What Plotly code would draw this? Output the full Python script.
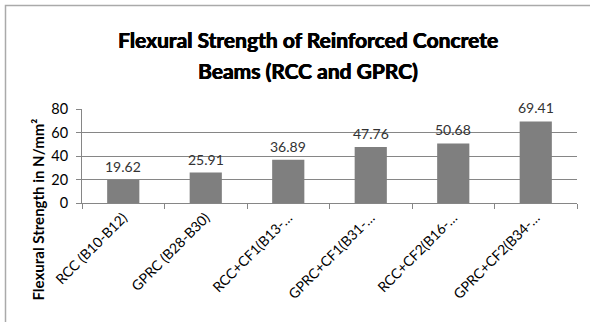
import plotly.graph_objects as go

categories = ["RCC (B10-B12)", "GPRC (B28-B30)", "RCC+CF1(B13-…", "GPRC+CF1(B31-…",
              "RCC+CF2(B16-…", "GPRC+CF2(B34-…"]
strength = [19.62, 25.91, 36.89, 47.76, 50.68, 69.41]
labels = ["19.62", "25.91", "36.89", "47.76", "50.68", "69.41"]
y_ticks = [0, 20, 40, 60, 80]
title_lines = ["Flexural Strength of Reinforced Concrete", "Beams (RCC and GPRC)"]
y_title = "Flexural Strength in N/mm²"

FONT = "Lato, Open Sans, sans-serif"
W, H = 590, 322
L, R, T, B = 82, 13, 109, 119
pw, ph = W - L - R, H - T - B

fig = go.Figure(go.Bar(
    x=categories, y=strength,
    marker=dict(color="#7f7f7f", line=dict(width=0)),
    width=0.39,
))

def px_x(p):
    return (p - L) / pw

def px_y(p):
    return (H - B - p) / ph

annotations = [
    dict(x=c, y=v, text=t, xref="x", yref="y", showarrow=False,
         yanchor="bottom", yshift=3,
         font=dict(family=FONT, size=14, color="#333333"))
    for c, v, t in zip(categories, strength, labels)
]
for line, cy in zip(title_lines, [39, 70.5]):
    annotations.append(dict(
        text=line, xref="paper", yref="paper",
        x=px_x(308), y=px_y(cy), xanchor="center", yanchor="middle",
        showarrow=False,
        font=dict(family=FONT, size=21, color="#000000", weight="bold",
                  shadow="0.5px 0px 0px #000, -0.3px 0px 0px #000"),
    ))
annotations.append(dict(
    text="<b>" + y_title + "</b>", xref="paper", yref="paper",
    x=px_x(37.5), y=px_y(210), xanchor="center", yanchor="middle",
    showarrow=False, textangle=-90,
    font=dict(family=FONT, size=15, color="#000000"),
))

fig.update_layout(
    width=W, height=H,
    margin=dict(l=L, r=R, t=T, b=B),
    paper_bgcolor="white", plot_bgcolor="white",
    showlegend=False,
    font=dict(family=FONT, color="#000000"),
    xaxis=dict(
        type="category", tickangle=-45, tickson="boundaries",
        ticks="outside", ticklen=5, tickcolor="#868686",
        showline=True, linecolor="#868686", linewidth=1,
        showgrid=False,
        tickfont=dict(family=FONT, size=14, color="#000000"),
    ),
    yaxis=dict(
        range=[0, 80], tickvals=y_ticks, ticks="outside", ticklen=5,
        tickcolor="#868686", ticklabelstandoff=5,
        showline=True, linecolor="#868686", linewidth=1,
        showgrid=True, gridcolor="#868686", gridwidth=1,
        zeroline=False,
        tickfont=dict(family=FONT, size=14.5, color="#000000"),
    ),
    shapes=[dict(
        type="rect", xref="paper", yref="paper",
        x0=px_x(5.5), x1=px_x(W + 20), y0=px_y(H + 20), y1=px_y(5.5),
        line=dict(color="#aaaaaa", width=1.5), fillcolor="rgba(0,0,0,0)",
        layer="below",
    )],
    annotations=annotations,
)

fig.write_html("out.html")
